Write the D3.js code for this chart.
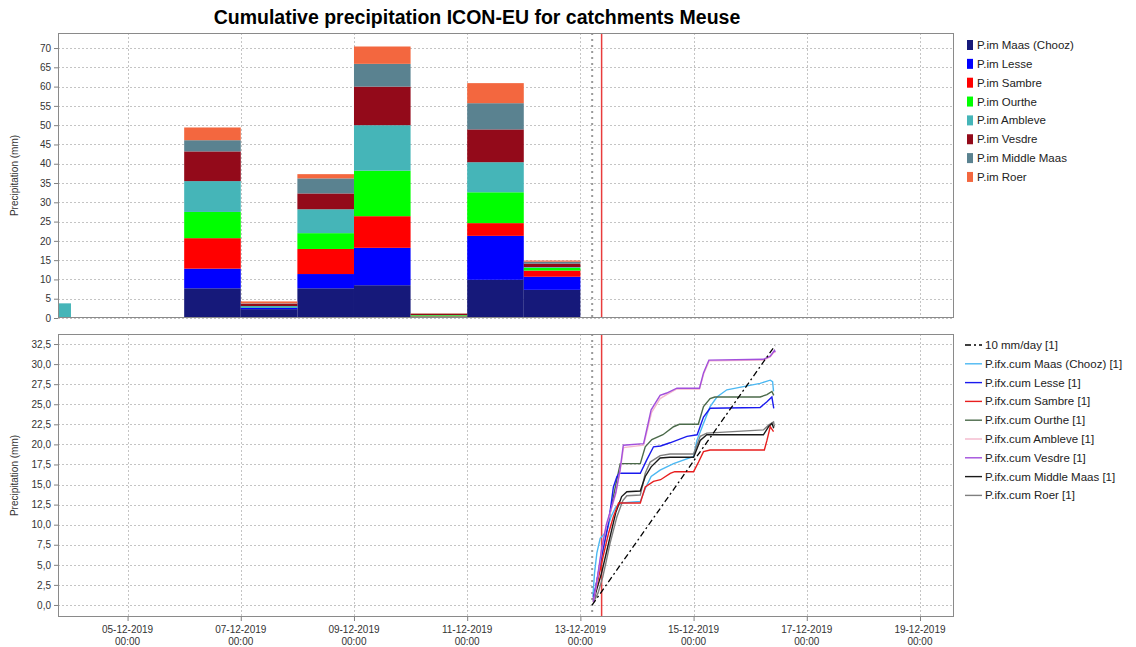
<!DOCTYPE html>
<html>
<head>
<meta charset="utf-8">
<script src="https://cdn.jsdelivr.net/npm/d3@7"></script>
<style>
  body { margin: 0; background: #fff; }
  svg { font-family: "Liberation Sans", Arial, sans-serif; }
</style>
</head>
<body>
<div id="chart"></div>
<script>
// daily catchment precipitation (mm), one bar per day
const days = ["2019-12-03", "2019-12-04", "2019-12-05", "2019-12-06", "2019-12-07",
              "2019-12-08", "2019-12-09", "2019-12-10", "2019-12-11", "2019-12-12"];
const catchments = ["Maas (Chooz)", "Lesse", "Sambre", "Ourthe", "Ambleve", "Vesdre", "Middle Maas", "Roer"];
const maasChooz  = [0, 0, 0, 7.7, 2.3, 7.7, 8.5, 0.3, 9.9, 7.3];
const lesse      = [0, 0, 0, 5.1, 0.3, 3.7, 9.7, 0.05, 11.4, 3.4];
const sambre     = [0, 0, 0, 7.9, 0, 6.5, 8.2, 0.1, 3.3, 1.6];
const ourthe     = [0, 0, 0, 6.8, 0, 4.1, 11.8, 0.25, 8.0, 0.7];
const ambleve    = [3.8, 0, 0, 8.0, 0.5, 6.2, 11.8, 0.05, 7.8, 0.2];
const vesdre     = [0, 0, 0, 7.7, 0.6, 4.1, 10.0, 0.3, 8.5, 0.9];
const middleMaas = [0, 0, 0, 2.9, 0.1, 3.9, 5.9, 0.1, 6.8, 0.5];
const roer       = [0, 0, 0, 3.3, 0.5, 1.1, 4.5, 0.1, 5.2, 0.3];
const barSeries = [maasChooz, lesse, sambre, ourthe, ambleve, vesdre, middleMaas, roer];
const barColors = ["#16197a", "#0000ff", "#ff0000", "#00ff00", "#45b5b8", "#930a1a", "#5a8290", "#f3673f"];

// cumulative forecast: [hours after 13-12-2019 00:00, mm]
const cumRef = [[5, 0], [82.5, 32.3]];
const cumMaasChooz = [[5.3,1.0],[6,4],[7,6.5],[8.4,8.3],[10,8.8],[11.5,9.5],[13,11],[15,12.2],[17.5,12.7],[25.4,12.9],[27.5,14.5],[30,16.0],[33.8,16.8],[39.5,17.6],[48,18.5],[49.4,20.5],[52.2,22.6],[55,24.7],[57.9,25.9],[62.1,26.8],[76.2,27.6],[80.5,28.0],[81.5,27.8],[81.9,26.6]];
const cumLesse = [[5.5,0.8],[7,3],[8.5,5.5],[10,7.5],[11.5,9.5],[13,12.5],[14,14.7],[15.5,16.0],[16.5,16.4],[25.4,16.4],[28.2,18.1],[31,19.7],[34,19.8],[38,20.2],[45.2,21.0],[49.5,21.2],[52.2,23.4],[55,24.5],[76.2,24.6],[79.1,25.3],[81.2,25.9],[82,24.5]];
const cumSambre = [[5.5,0.8],[7,2.5],[8.5,4.5],[10,6.5],[12,9],[14,11],[16.2,12.7],[25.4,12.7],[27.5,14.7],[31,15.4],[34,15.6],[38.1,16.4],[40,16.6],[48,16.6],[50.1,17.8],[52.2,19.1],[55,19.3],[78,19.3],[79.1,20.5],[80.5,22.2],[81.9,21.6]];
const cumOurthe = [[5.5,0.5],[7,3],[9,6],[11,9],[13,12],[15,15],[16.9,17.6],[25.4,17.6],[27.5,19.7],[30.3,20.6],[35,21.2],[39.5,22.2],[42,22.5],[50,22.5],[52.2,24.7],[55,25.7],[57,25.9],[76.2,25.9],[79.1,26.2],[81.2,26.6],[82,26.1]];
const cumAmbleve = [[5.5,0.3],[7,2.8],[9,6.8],[11,9.8],[13,11.8],[15,13.8],[16.8,16.6],[18.3,19.6],[26.8,19.9],[28.5,21.9],[30.2,24.0],[33.8,25.7],[36.6,26.2],[40.9,26.9],[50.5,26.9],[52.3,28.8],[54.6,30.4],[77.6,30.5],[80.5,30.9],[82.3,31.6],[82.6,31.4]];
const cumVesdre = [[5.5,0.4],[7,3],[9,7],[11,10],[13,12],[15,14],[16.8,16.8],[18.2,19.9],[26.8,20.1],[28.4,22.2],[30.0,24.3],[33.8,26.1],[36.6,26.4],[40.9,27.0],[50.5,27.0],[52.2,28.9],[54.5,30.5],[77.6,30.6],[80.5,31.0],[82.3,31.7],[82.6,31.5]];
const cumMiddleMaas = [[5.5,0.4],[7,2],[9,4],[11,6.5],[13,9],[15,11.5],[17.5,13.5],[19.7,14.1],[25.4,14.2],[27.5,16.0],[30,17.2],[33.8,18.3],[38,18.4],[48,18.4],[50.8,20.5],[53.6,21.2],[77.6,21.2],[79.8,22.2],[81.2,22.6],[82,22.0]];
const cumRoer = [[5.7,0.4],[7.5,1.5],[9.5,3.5],[11,5.5],[12.6,7.7],[15.5,11.0],[18,13.0],[19.7,13.6],[25.4,13.7],[27.5,16.4],[29.6,17.8],[33.8,18.6],[38,18.8],[48,18.8],[50.8,21.0],[53.6,21.4],[77.6,21.8],[79.8,22.4],[81.9,22.8],[82.3,22.2]];

const lineNames = ["10 mm/day [1]", "P.ifx.cum Maas (Chooz) [1]", "P.ifx.cum Lesse [1]", "P.ifx.cum Sambre [1]",
                   "P.ifx.cum Ourthe [1]", "P.ifx.cum Ambleve [1]", "P.ifx.cum Vesdre [1]",
                   "P.ifx.cum Middle Maas [1]", "P.ifx.cum Roer [1]"];
const lineSeries = [cumRef, cumMaasChooz, cumLesse, cumSambre, cumOurthe, cumAmbleve, cumVesdre, cumMiddleMaas, cumRoer];
const lineColors = ["#000000", "#4cb8f2", "#1a1aee", "#e81e1e", "#4b6a4a", "#f4b8cc", "#a24fdc", "#1a1a1a", "#7f7f7f"];

const xTicks = ["2019-12-05", "2019-12-07", "2019-12-09", "2019-12-11", "2019-12-13", "2019-12-15", "2019-12-17", "2019-12-19"];
const topTicks = d3.range(0, 71, 5);
const bottomTicks = d3.range(0, 33, 2.5);
const forecastStart = 5;   // hours after 13-12 00:00 (dotted line)
const nowLine = 9;         // hours after 13-12 00:00 (red line)

const width = 1136, height = 647;
const left = 58, right = 954;
const top1 = 33, bottom1 = 318;
const top2 = 334, bottom2 = 617;

const parseDay = d3.timeParse("%Y-%m-%d");
const base = new Date(2019, 11, 13, 0, 0);
const fromHours = h => new Date(base.getTime() + h * 3600e3);

const x = d3.scaleTime()
    .domain([new Date(2019, 11, 3, 18, 30), new Date(2019, 11, 19, 14, 25)])
    .range([left, right]);
const y1 = d3.scaleLinear().domain([0, 73.9]).range([bottom1, top1]);
const y2 = d3.scaleLinear().domain([-1.5, 33.75]).range([bottom2, top2]);

const svg = d3.select("#chart").append("svg")
    .attr("width", width)
    .attr("height", height);

svg.append("text")
    .attr("x", 477).attr("y", 24)
    .attr("text-anchor", "middle")
    .attr("font-size", 19.5).attr("font-weight", "bold")
    .text("Cumulative precipitation ICON-EU for catchments Meuse");

function panel(top, bottom, y, ticks, fmt, clipId) {
    const g = svg.append("g");
    g.append("rect")
        .attr("x", left).attr("y", top)
        .attr("width", right - left).attr("height", bottom - top)
        .attr("fill", "#fff");

    svg.append("clipPath").attr("id", clipId)
        .append("rect")
        .attr("x", left).attr("y", top)
        .attr("width", right - left).attr("height", bottom - top);

    // grid
    g.selectAll(".hgrid").data(ticks).enter().append("line")
        .attr("x1", left).attr("x2", right)
        .attr("y1", d => Math.round(y(d)) + 0.5).attr("y2", d => Math.round(y(d)) + 0.5)
        .attr("stroke", "#c4c4c4").attr("stroke-dasharray", "2,2");
    g.selectAll(".vgrid").data(xTicks).enter().append("line")
        .attr("x1", d => Math.round(x(parseDay(d))) + 0.5).attr("x2", d => Math.round(x(parseDay(d))) + 0.5)
        .attr("y1", top).attr("y2", bottom)
        .attr("stroke", "#c4c4c4").attr("stroke-dasharray", "2,2");

    // y axis
    const axis = g.append("g")
        .attr("transform", `translate(${left},0)`)
        .call(d3.axisLeft(y).tickValues(ticks).tickSize(4).tickPadding(3).tickFormat(fmt));
    axis.select(".domain").remove();
    axis.selectAll("line").attr("stroke", "#808080");
    axis.selectAll("text").attr("font-size", 10).attr("fill", "#333")
        .attr("font-family", "Liberation Sans, Arial, sans-serif");

    g.append("text")
        .attr("transform", `translate(18,${(top + bottom) / 2}) rotate(-90)`)
        .attr("text-anchor", "middle")
        .attr("font-size", 10).attr("fill", "#333")
        .text("Precipitation (mm)");
    return g;
}

function markers(g, top, bottom) {
    const xs = x(fromHours(forecastStart));
    g.append("line")
        .attr("x1", xs).attr("x2", xs).attr("y1", top).attr("y2", bottom)
        .attr("stroke", "#9a9a9a").attr("stroke-width", 2).attr("stroke-dasharray", "2,4");
    const xn = x(fromHours(nowLine));
    g.append("line")
        .attr("x1", xn).attr("x2", xn).attr("y1", top).attr("y2", bottom)
        .attr("stroke", "#e83c3c").attr("stroke-width", 1.5);
}

function border(top, bottom) {
    svg.append("rect")
        .attr("x", left + 0.5).attr("y", top + 0.5)
        .attr("width", right - left - 1).attr("height", bottom - top - 1)
        .attr("fill", "none").attr("stroke", "#8a8a8a");
}

// ---------- top panel: stacked daily bars ----------
const fmt1 = d3.format("d");
const gTop = panel(top1, bottom1, y1, topTicks, fmt1, "clipTop");

const table = days.map((d, i) => {
    const row = { day: parseDay(d) };
    catchments.forEach((c, k) => { row[c] = barSeries[k][i]; });
    return row;
});
const stacked = d3.stack().keys(catchments)(table);

gTop.append("g").attr("clip-path", "url(#clipTop)")
    .selectAll("g").data(stacked).enter().append("g")
    .attr("fill", (d, i) => barColors[i])
    .selectAll("rect").data(d => d).enter().append("rect")
    .attr("x", d => x(d.data.day))
    .attr("width", d => x(d3.timeDay.offset(d.data.day, 1)) - x(d.data.day))
    .attr("y", d => y1(d[1]))
    .attr("height", d => Math.max(0, y1(d[0]) - y1(d[1])));

markers(gTop, top1, bottom1);
border(top1, bottom1);

// ---------- bottom panel: cumulative lines ----------
const fmt2 = d => d3.format(".1f")(d).replace(".", ",");
const gBot = panel(top2, bottom2, y2, bottomTicks, fmt2, "clipBot");
markers(gBot, top2, bottom2);

const line = d3.line()
    .x(d => x(fromHours(d[0])))
    .y(d => y2(d[1]));

// draw back to front so Vesdre sits over Ambleve
const drawOrder = [1, 4, 8, 7, 3, 2, 5, 6, 0];
gBot.append("g").attr("clip-path", "url(#clipBot)")
    .selectAll("path").data(drawOrder).enter().append("path")
    .attr("d", i => line(lineSeries[i]))
    .attr("fill", "none")
    .attr("stroke", i => lineColors[i])
    .attr("stroke-width", i => i === 0 ? 1.3 : 1.4)
    .attr("stroke-dasharray", i => i === 0 ? "6,3,2,3" : null);

border(top2, bottom2);

// x axis under bottom panel
const xAxis = svg.append("g")
    .attr("transform", `translate(0,${bottom2})`)
    .call(d3.axisBottom(x).tickValues(xTicks.map(parseDay)).tickSize(4).tickFormat(""));
xAxis.select(".domain").remove();
xAxis.selectAll("line").attr("stroke", "#808080");
const xl = svg.append("g").selectAll("text").data(xTicks).enter().append("text")
    .attr("x", d => x(parseDay(d)))
    .attr("y", 633)
    .attr("text-anchor", "middle")
    .attr("font-size", 10).attr("fill", "#333");
xl.append("tspan").text(d => d3.timeFormat("%d-%m-%Y")(parseDay(d)));
xl.append("tspan").attr("x", d => x(parseDay(d))).attr("dy", 12).text("00:00");

// ---------- legends ----------
const legTop = svg.append("g").selectAll("g").data(catchments).enter().append("g")
    .attr("transform", (d, i) => `translate(967,${45 + i * 18.85})`);
legTop.append("rect")
    .attr("x", 0).attr("y", -5).attr("width", 6).attr("height", 10)
    .attr("fill", (d, i) => barColors[i]);
legTop.append("text")
    .attr("x", 10).attr("y", 4)
    .attr("font-size", 11.5).attr("fill", "#222")
    .text(d => "P.im " + d);

const legBot = svg.append("g").selectAll("g").data(lineNames).enter().append("g")
    .attr("transform", (d, i) => `translate(965,${345 + i * 18.8})`);
legBot.append("line")
    .attr("x1", 0).attr("x2", 17).attr("y1", 0).attr("y2", 0)
    .attr("stroke", (d, i) => lineColors[i])
    .attr("stroke-width", 1.4)
    .attr("stroke-dasharray", (d, i) => i === 0 ? "6,3,2,3" : null);
legBot.append("text")
    .attr("x", 20).attr("y", 4)
    .attr("font-size", 11.5).attr("fill", "#222")
    .text(d => d);
</script>
</body>
</html>
